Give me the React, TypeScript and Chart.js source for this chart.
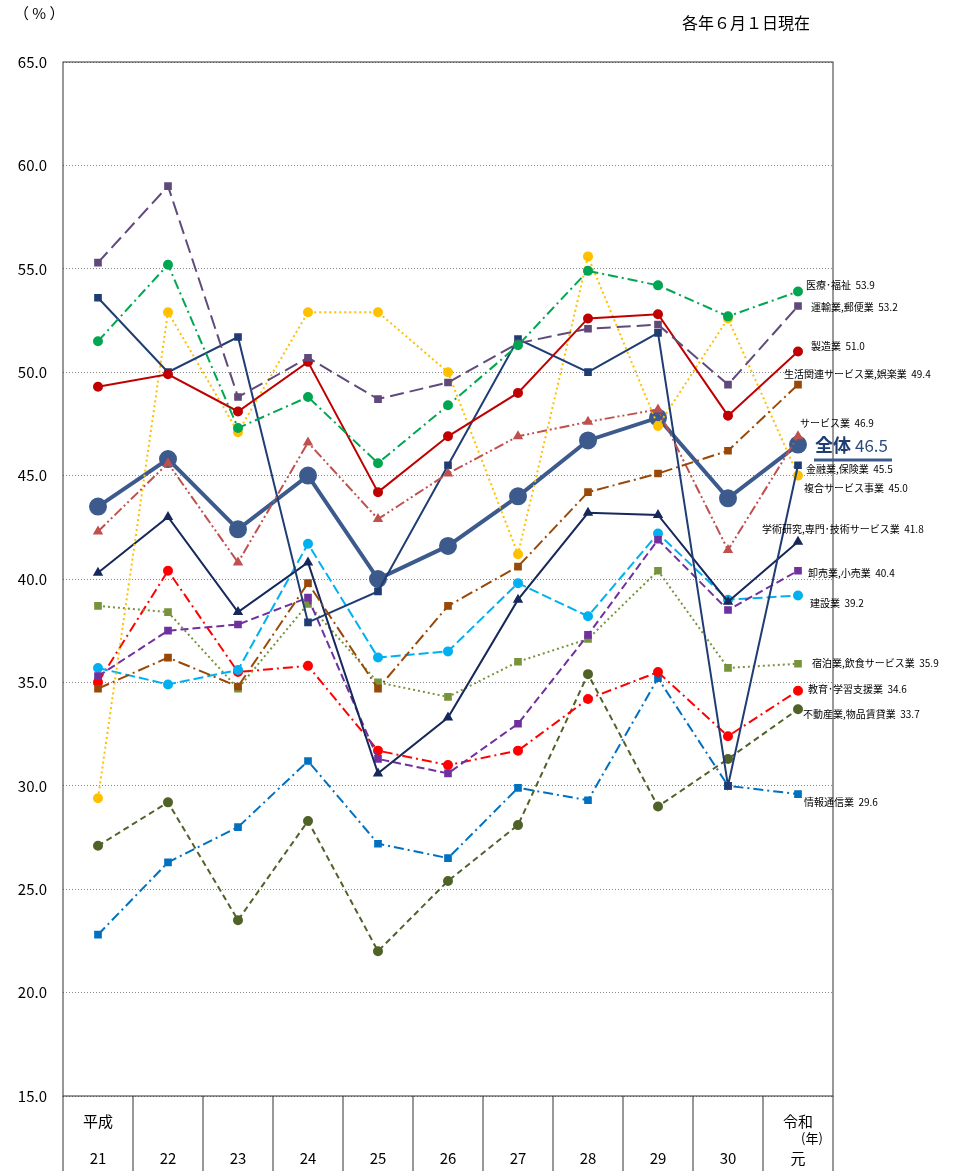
import { useEffect, useRef } from "react";
import { Chart, registerables } from "chart.js";

Chart.register(...registerables);

const years = ["21", "22", "23", "24", "25", "26", "27", "28", "29", "30", "元"];
const yTicks = [15, 20, 25, 30, 35, 40, 45, 50, 55, 60, 65];

const total = [43.5, 45.8, 42.4, 45.0, 40.0, 41.6, 44.0, 46.7, 47.8, 43.9, 46.5];
const medical = [51.5, 55.2, 47.3, 48.8, 45.6, 48.4, 51.3, 54.9, 54.2, 52.7, 53.9];
const transport = [55.3, 59.0, 48.8, 50.7, 48.7, 49.5, 51.4, 52.1, 52.3, 49.4, 53.2];
const manufacturing = [49.3, 49.9, 48.1, 50.5, 44.2, 46.9, 49.0, 52.6, 52.8, 47.9, 51.0];
const lifestyle = [34.7, 36.2, 34.8, 39.8, 34.7, 38.7, 40.6, 44.2, 45.1, 46.2, 49.4];
const services = [42.3, 45.6, 40.8, 46.6, 42.9, 45.1, 46.9, 47.6, 48.2, 41.4, 46.9];
const finance = [53.6, 50.0, 51.7, 37.9, 39.4, 45.5, 51.6, 50.0, 51.9, 30.0, 45.5];
const compound = [29.4, 52.9, 47.1, 52.9, 52.9, 50.0, 41.2, 55.6, 47.4, 52.6, 45.0];
const research = [40.3, 43.0, 38.4, 40.8, 30.6, 33.3, 39.0, 43.2, 43.1, 38.9, 41.8];
const retail = [35.3, 37.5, 37.8, 39.1, 31.3, 30.6, 33.0, 37.3, 41.9, 38.5, 40.4];
const construction = [35.7, 34.9, 35.6, 41.7, 36.2, 36.5, 39.8, 38.2, 42.2, 39.0, 39.2];
const hotel = [38.7, 38.4, 34.7, 38.8, 35.0, 34.3, 36.0, 37.1, 40.4, 35.7, 35.9];
const education = [35.0, 40.4, 35.5, 35.8, 31.7, 31.0, 31.7, 34.2, 35.5, 32.4, 34.6];
const realEstate = [27.1, 29.2, 23.5, 28.3, 22.0, 25.4, 28.1, 35.4, 29.0, 31.3, 33.7];
const infoComm = [22.8, 26.3, 28.0, 31.2, 27.2, 26.5, 29.9, 29.3, 35.2, 30.0, 29.6];

type S = {
  label: string;
  data: number[];
  color: string;
  dash: number[];
  point: "circle" | "rect" | "triangle";
  lx: number; // label x offset from last point
  ly: number; // label y pixel
};

const series: S[] = [
  { label: "医療･福祉", data: medical, color: "#00a651", dash: [10, 4, 2, 4], point: "circle", lx: 8, ly: 285 },
  { label: "運輸業,郵便業", data: transport, color: "#604a7b", dash: [14, 6], point: "rect", lx: 13, ly: 307 },
  { label: "製造業", data: manufacturing, color: "#c00000", dash: [], point: "circle", lx: 13, ly: 346 },
  { label: "生活関連サービス業,娯楽業", data: lifestyle, color: "#984807", dash: [12, 4, 2, 4], point: "rect", lx: -14, ly: 374 },
  { label: "サービス業", data: services, color: "#c0504d", dash: [10, 3, 2, 3, 2, 3], point: "triangle", lx: 2, ly: 423 },
  { label: "金融業,保険業", data: finance, color: "#1f3d73", dash: [], point: "rect", lx: 8, ly: 469 },
  { label: "複合サービス事業", data: compound, color: "#ffc000", dash: [2, 3], point: "circle", lx: 6, ly: 488 },
  { label: "学術研究,専門･技術サービス業", data: research, color: "#17295a", dash: [], point: "triangle", lx: -36, ly: 529 },
  { label: "卸売業,小売業", data: retail, color: "#7030a0", dash: [8, 4], point: "rect", lx: 10, ly: 573 },
  { label: "建設業", data: construction, color: "#00b0f0", dash: [10, 4], point: "circle", lx: 12, ly: 603 },
  { label: "宿泊業,飲食サービス業", data: hotel, color: "#77933c", dash: [2, 3], point: "rect", lx: 14, ly: 663 },
  { label: "教育･学習支援業", data: education, color: "#ff0000", dash: [10, 4, 2, 4], point: "circle", lx: 10, ly: 689 },
  { label: "不動産業,物品賃貸業", data: realEstate, color: "#4f6228", dash: [6, 4], point: "circle", lx: 5, ly: 714 },
  { label: "情報通信業", data: infoComm, color: "#0070c0", dash: [10, 4, 2, 4], point: "rect", lx: 6, ly: 802 },
];

const FONT = "'Noto Sans CJK JP', 'Noto Sans', sans-serif";

const overlay = {
  id: "overlay",
  afterDraw(chart: Chart) {
    const { ctx, chartArea: a, scales } = chart;
    const x = scales.x;
    ctx.save();
    ctx.strokeStyle = "#333";
    ctx.lineWidth = 1;
    ctx.strokeRect(a.left, a.top, a.right - a.left, a.bottom - a.top);
    // bottom table lines
    ctx.beginPath();
    ctx.moveTo(a.left, a.bottom);
    ctx.lineTo(a.left, chart.height);
    ctx.moveTo(a.right, a.bottom);
    ctx.lineTo(a.right, chart.height);
    for (let i = 0; i < years.length - 1; i++) {
      const bx = (x.getPixelForValue(i) + x.getPixelForValue(i + 1)) / 2;
      ctx.moveTo(bx, a.bottom);
      ctx.lineTo(bx, chart.height);
    }
    ctx.stroke();
    ctx.fillStyle = "#000";
    ctx.font = `15px ${FONT}`;
    ctx.textAlign = "center";
    ctx.textBaseline = "middle";
    years.forEach((y, i) => {
      const px = x.getPixelForValue(i);
      ctx.fillText(y, px, a.bottom + 62);
    });
    ctx.fillText("平成", x.getPixelForValue(0), a.bottom + 25);
    ctx.fillText("令和", x.getPixelForValue(10), a.bottom + 25);
    ctx.font = `13px ${FONT}`;
    ctx.fillText("(年)", x.getPixelForValue(10) + 14, a.bottom + 42);
    // right labels
    ctx.textAlign = "left";
    const last = years.length - 1;
    const xl = x.getPixelForValue(last);
    series.forEach((s) => {
      ctx.font = `10px ${FONT}`;
      ctx.fillStyle = "#000";
      const v = s.data[last].toFixed(1);
      ctx.fillText(`${s.label}  ${v}`, xl + s.lx, s.ly);
    });
    ctx.fillStyle = "#1f3d73";
    ctx.font = `bold 18px ${FONT}`;
    ctx.fillText("全体", xl + 17, 445);
    const w = ctx.measureText("全体").width;
    ctx.fillStyle = "#2e4a7a";
    ctx.font = `17px ${FONT}`;
    ctx.fillText(total[last].toFixed(1), xl + 21 + w, 446);
    ctx.strokeStyle = "#3c5a8c";
    ctx.lineWidth = 3;
    ctx.beginPath();
    ctx.moveTo(xl + 16, 460);
    ctx.lineTo(xl + 94, 460);
    ctx.stroke();
    ctx.restore();
  },
};

function LineChart() {
  const canvasRef = useRef<HTMLCanvasElement | null>(null);

  useEffect(() => {
    const canvas = canvasRef.current;
    if (!canvas) return;
    const datasets: any[] = series.map((s) => ({
      label: s.label,
      data: s.data,
      borderColor: s.color,
      backgroundColor: s.color,
      borderWidth: 2,
      borderDash: s.dash,
      pointStyle: s.point,
      pointRadius: 4,
      tension: 0,
    }));
    datasets.push({
      label: "全体",
      data: total,
      borderColor: "#3c5a8c",
      backgroundColor: "#3c5a8c",
      borderWidth: 4,
      pointRadius: 7,
      pointStyle: "circle",
      tension: 0,
    });
    const chart = new Chart(canvas, {
      type: "line",
      data: { labels: years, datasets },
      options: {
        animation: false,
        responsive: false,
        layout: { padding: { top: 62, right: 127, bottom: 67, left: 0 } },
        plugins: { legend: { display: false }, tooltip: { enabled: false } },
        scales: {
          x: {
            offset: true,
            grid: { display: false },
            border: { display: false },
            ticks: { display: false },
          },
          y: {
            min: 15,
            max: 65,
            afterBuildTicks: (sc: any) => {
              sc.ticks = yTicks.map((v) => ({ value: v }));
            },
            afterFit: (sc: any) => {
              sc.width = 63;
            },
            grid: {
              color: "#888",
              lineWidth: 1,
              tickLength: 0,
            },
            border: { display: false, dash: [1, 2] },
            ticks: {
              color: "#000",
              font: { size: 15, family: FONT },
              padding: 16,
              callback: (v: any) => Number(v).toFixed(1),
            },
          },
        },
      },
      plugins: [overlay],
    });
    return () => chart.destroy();
  }, []);

  return <canvas ref={canvasRef} width={960} height={1171} />;
}

export default function App() {
  return (
    <div style={{ position: "absolute", left: 0, top: 0, width: 960, height: 1171, background: "#fff", fontFamily: FONT }}>
      <LineChart />
      <div style={{ position: "absolute", left: 14, top: 2, fontSize: 15 }}>（ % ）</div>
      <div style={{ position: "absolute", left: 682, top: 10, fontSize: 16 }}>各年６月１日現在</div>
    </div>
  );
}
